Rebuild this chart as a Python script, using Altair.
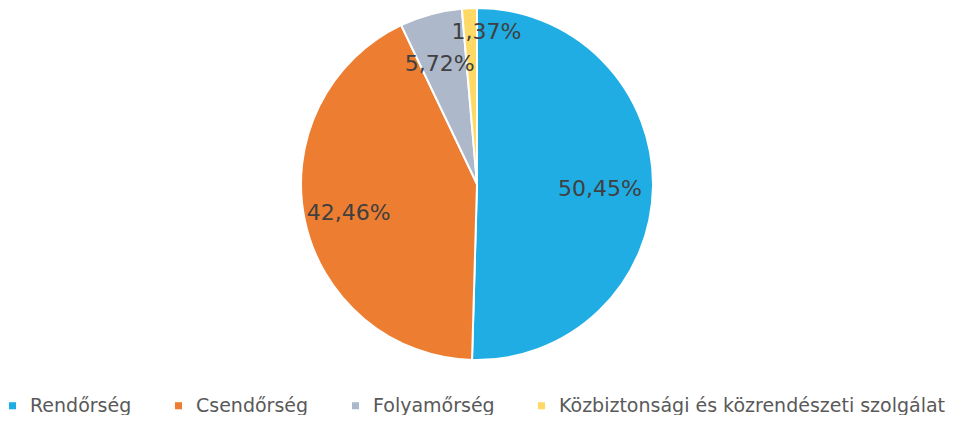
import altair as alt
import pandas as pd

categories = ["Rendőrség", "Csendőrség", "Folyamőrség", "Közbiztonsági és közrendészeti szolgálat"]
values = [50.45, 42.46, 5.72, 1.37]
labels = ["50,45%", "42,46%", "5,72%", "1,37%"]
colors = ["#1FADE4", "#ED7D31", "#ADB9CA", "#FFD966"]

df = pd.DataFrame({"cat": categories, "value": values, "label": labels, "order": list(range(len(categories)))})

FONT = "DejaVu Sans"

base = alt.Chart(df).encode(
    theta=alt.Theta("value:Q", stack=True),
    order=alt.Order("order:Q"),
)

pie = base.mark_arc(outerRadius=176, stroke="white", strokeWidth=2).encode(
    color=alt.Color(
        "cat:N",
        scale=alt.Scale(domain=categories, range=colors),
        sort=categories,
        legend=alt.Legend(
            title=None,
            orient="none",
            legendX=-5,
            legendY=388,
            padding=0,
            direction="horizontal",
            symbolType="square",
            symbolSize=50,
            symbolStrokeWidth=0,
            symbolOffset=0,
            labelOffset=8,
            labelFont=FONT,
            labelFontSize=19,
            labelColor="#595959",
            columnPadding=37,
            labelLimit=500,
        ),
    )
)

text_main = base.mark_text(radius=127, dx=-4, dy=3, fontSize=22, font=FONT, color="#404040").encode(
    text=alt.condition(alt.datum.value > 3, "label:N", alt.value(""))
)
text_small = base.mark_text(radius=152, dx=16, fontSize=22, font=FONT, color="#404040").encode(
    text=alt.condition(alt.datum.value <= 3, "label:N", alt.value(""))
)

chart = (
    (pie + text_main + text_small)
    .properties(
        width=938,
        height=352,
        padding={"top": 0, "left": 0, "right": 0, "bottom": 55},
        autosize=alt.AutoSizeParams(type="none"),
    )
    .configure_view(stroke=None)
)

chart.save("out.html", embed_options={"renderer": "svg", "actions": False})
